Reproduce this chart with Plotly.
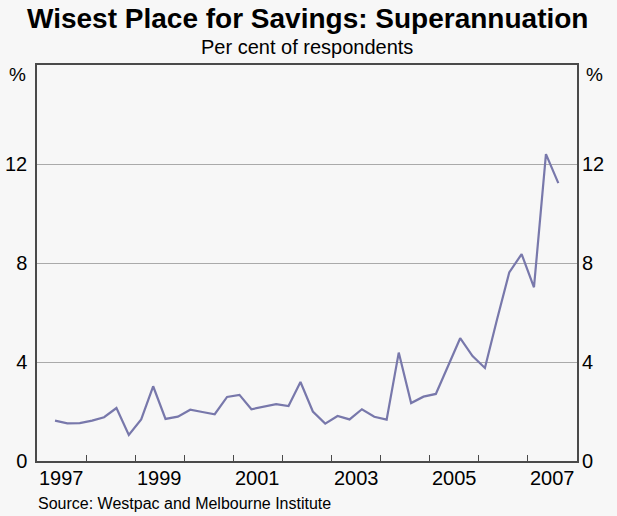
import pandas as pd
import plotly.graph_objects as go

# Quarterly survey observations, May 1997 to Aug 2007
dates = pd.date_range("1997-05-01", periods=42, freq="3MS") + pd.Timedelta(days=14)
superannuation = [
    1.63, 1.52, 1.53, 1.63, 1.77, 2.14, 1.05, 1.68, 3.02, 1.70,
    1.79, 2.07, 1.98, 1.89, 2.59, 2.67, 2.09, 2.18, 2.30, 2.22,
    3.19, 2.00, 1.51, 1.82, 1.68, 2.09, 1.79, 1.67, 4.38, 2.34,
    2.60, 2.71, 3.84, 4.96, 4.24, 3.76, 5.70, 7.62, 8.36, 7.02,
    12.40, 11.23,
]
y_ticks = [0, 4, 8, 12]
year_ticks = [f"{y}-01-01" for y in range(1998, 2008)]
year_labels = ["1997", "1999", "2001", "2003", "2005", "2007"]

FONT = "Liberation Sans, Arial, sans-serif"
AX = "#4a4a4a"
BG = "#f7f7f7"

fig = go.Figure()
fig.add_trace(go.Scatter(x=dates, y=superannuation, mode="lines",
                         line=dict(color="#7878ab", width=2.2),
                         hoverinfo="skip", showlegend=False))
fig.add_trace(go.Scatter(x=dates, y=superannuation, mode="lines", yaxis="y2",
                         line=dict(width=0), opacity=0, hoverinfo="skip",
                         showlegend=False))

annotations = [
    dict(text="<b>Wisest Place for Savings: Superannuation</b>", x=0.5, y=1,
         xref="paper", yref="paper", xanchor="center", yanchor="middle",
         yshift=47, showarrow=False, font=dict(size=28, color="#000")),
    dict(text="Per cent of respondents", x=0.5, y=1, xref="paper", yref="paper",
         xanchor="center", yanchor="middle", yshift=18, showarrow=False,
         font=dict(size=20, color="#000")),
    dict(text="%", x=0, y=1, xref="paper", yref="paper", xanchor="right",
         yanchor="middle", xshift=-9, yshift=-9, showarrow=False,
         font=dict(size=19, color="#000")),
    dict(text="%", x=1, y=1, xref="paper", yref="paper", xanchor="left",
         yanchor="middle", xshift=7, yshift=-9, showarrow=False,
         font=dict(size=19, color="#000")),
    dict(text="Source: Westpac and Melbourne Institute", x=0, y=0,
         xref="paper", yref="paper", xanchor="left", yanchor="middle",
         xshift=-1, yshift=-42, showarrow=False,
         font=dict(size=16, color="#000")),
]
for lab in year_labels:
    annotations.append(dict(text=lab, x=f"{lab}-07-02", y=0, xref="x",
                            yref="paper", xanchor="center", yanchor="middle",
                            yshift=-17, showarrow=False,
                            font=dict(size=20, color="#000")))

fig.update_layout(
    width=617, height=516,
    margin=dict(l=37, r=40, t=65, b=55),
    paper_bgcolor=BG, plot_bgcolor=BG,
    font=dict(family=FONT, color="#000"),
    annotations=annotations,
    hovermode=False,
    xaxis=dict(type="date", range=["1997-01-01", "2008-01-01"],
               tickvals=year_ticks, showticklabels=False, automargin=False,
               ticks="inside", ticklen=6, tickcolor=AX, tickwidth=1,
               showgrid=False, zeroline=False,
               showline=True, linecolor=AX, linewidth=1.5, mirror=True),
    yaxis=dict(range=[0, 16], tickvals=y_ticks, ticks="", showgrid=True,
               gridcolor="#aaaaaa", gridwidth=1, zeroline=False, automargin=False,
               showline=True, linecolor=AX, linewidth=1.5, mirror=True,
               tickfont=dict(size=20), ticklabelstandoff=4),
    yaxis2=dict(range=[0, 16], tickvals=y_ticks, ticks="", overlaying="y",
                side="right", showgrid=False, zeroline=False, showline=False,
                automargin=False, tickfont=dict(size=20), ticklabelstandoff=4),
)

fig.write_html(
    "out.html",
    config={"displayModeBar": False},
    post_script="document.body.style.margin='0';"
                "document.body.style.background='#f7f7f7';",
)
